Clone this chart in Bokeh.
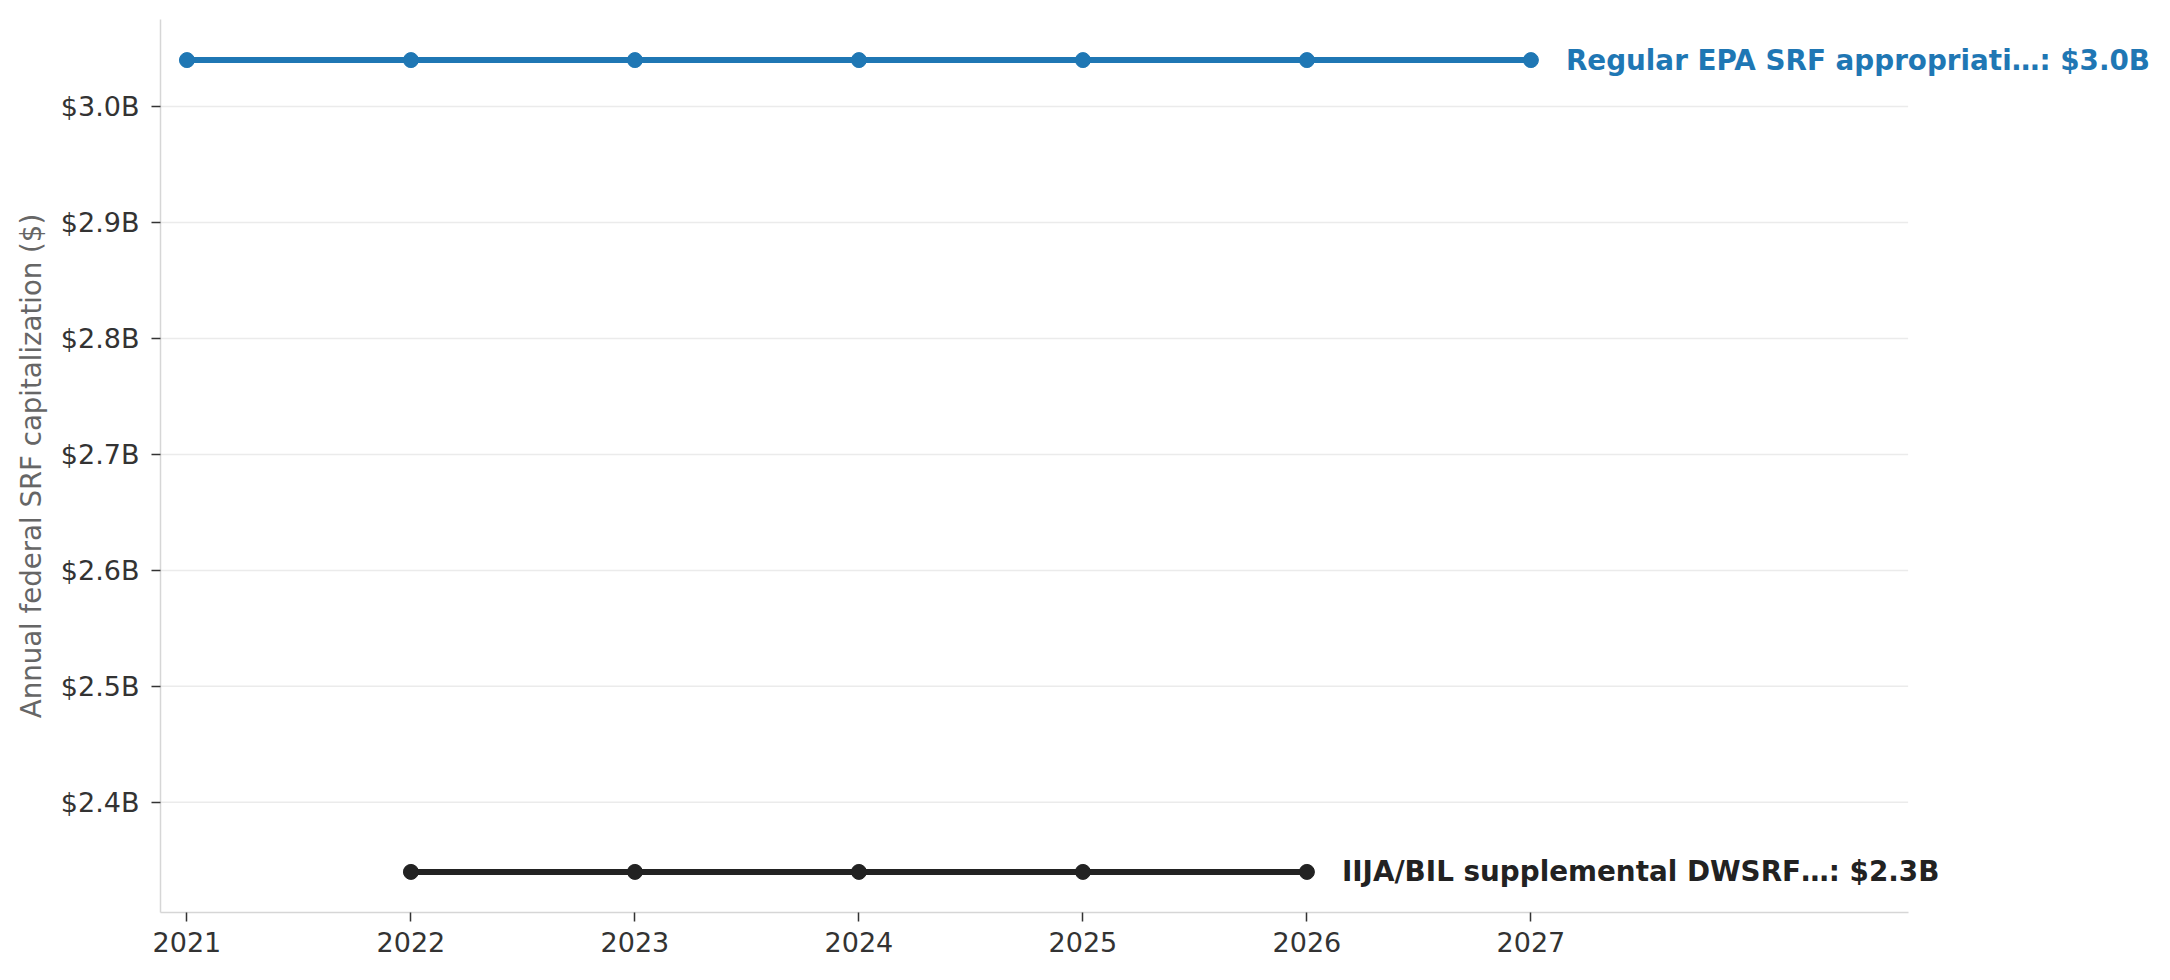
from bokeh.plotting import figure
from bokeh.models import (ColumnDataSource, Range1d, FixedTicker, CustomJSTickFormatter, Label)
from bokeh.embed import file_html
from bokeh.resources import INLINE

# ---- data ----
years_regular = [2021, 2022, 2023, 2024, 2025, 2026, 2027]
values_regular = [3.04e9, 3.04e9, 3.04e9, 3.04e9, 3.04e9, 3.04e9, 3.04e9]
name_regular = "Regular EPA SRF appropriati\u2026"

years_iija = [2022, 2023, 2024, 2025, 2026]
values_iija = [2.34e9, 2.34e9, 2.34e9, 2.34e9, 2.34e9]
name_iija = "IIJA/BIL supplemental DWSRF\u2026"

x_ticks = [2021, 2022, 2023, 2024, 2025, 2026, 2027]
y_ticks = [2.4e9, 2.5e9, 2.6e9, 2.7e9, 2.8e9, 2.9e9, 3.0e9]
y_label = "Annual federal SRF capitalization ($)"

BLUE = "#1f77b4"
DARK = "#222222"
FONT = "DejaVu Sans"

# axes extent (data units): visible axis ends at X_AXIS_END, canvas continues for labels
X_LO, X_AXIS_END, X_HI = 2020.882, 2028.684, 2029.784

all_vals = values_regular + values_iija
lo, hi = min(all_vals), max(all_vals)
pad = (hi - lo) * 0.05

p = figure(width=2154, height=964, output_backend="svg", toolbar_location=None,
           x_range=Range1d(X_LO, X_HI), y_range=Range1d(lo - pad, hi + pad),
           min_border_left=160, min_border_right=0, min_border_top=19, min_border_bottom=52)
p.outline_line_color = None
p.background_fill_color = "white"
p.border_fill_color = "white"

# horizontal gridlines limited to the axis extent
grid_src = ColumnDataSource(dict(x0=[X_LO] * len(y_ticks), x1=[X_AXIS_END] * len(y_ticks), y=y_ticks))
p.segment(x0="x0", y0="y", x1="x1", y1="y", source=grid_src, line_color="#ebebeb",
          line_width=1.5, level="underlay")

series = [
    (years_regular, values_regular, name_regular, BLUE),
    (years_iija, values_iija, name_iija, DARK),
]
for xs, ys, name, col in series:
    src = ColumnDataSource(dict(x=xs, y=ys))
    p.line("x", "y", source=src, line_color=col, line_width=6)
    p.scatter("x", "y", source=src, size=15, fill_color=col, line_color=col)
    lab = Label(x=xs[-1], y=ys[-1], x_offset=35, text=f"{name}: ${ys[-1]/1e9:.1f}B",
                text_color=col, text_font=FONT, text_font_size="27.8px",
                text_font_style="bold", text_baseline="middle", text_align="left")
    p.add_layout(lab)

# axes
for ax in (p.xaxis[0], p.yaxis[0]):
    ax.axis_line_color = "#d6d6d6"
    ax.axis_line_width = 1.5
    ax.major_tick_line_color = "#333333"
    ax.major_tick_line_width = 1.5
    ax.major_tick_out = 9
    ax.major_tick_in = 0
    ax.minor_tick_line_color = None
    ax.major_label_text_font = FONT
    ax.major_label_text_font_size = "27px"
    ax.major_label_text_color = "#333333"

p.xaxis.ticker = FixedTicker(ticks=x_ticks)
p.xaxis.bounds = (X_LO, X_AXIS_END)
p.xaxis.major_label_standoff = 10
p.yaxis.ticker = FixedTicker(ticks=y_ticks)
p.yaxis.formatter = CustomJSTickFormatter(code="return '$' + (tick/1e9).toFixed(1) + 'B';")
p.yaxis.major_label_standoff = 12
p.yaxis.axis_label = y_label
p.yaxis.axis_label_text_font = FONT
p.yaxis.axis_label_text_font_size = "27.6px"
p.yaxis.axis_label_text_font_style = "normal"
p.yaxis.axis_label_text_color = "#666666"
p.yaxis.axis_label_standoff = 10

p.xgrid.grid_line_color = None
p.ygrid.grid_line_color = None

open("out.html", "w").write(file_html(p, INLINE))
